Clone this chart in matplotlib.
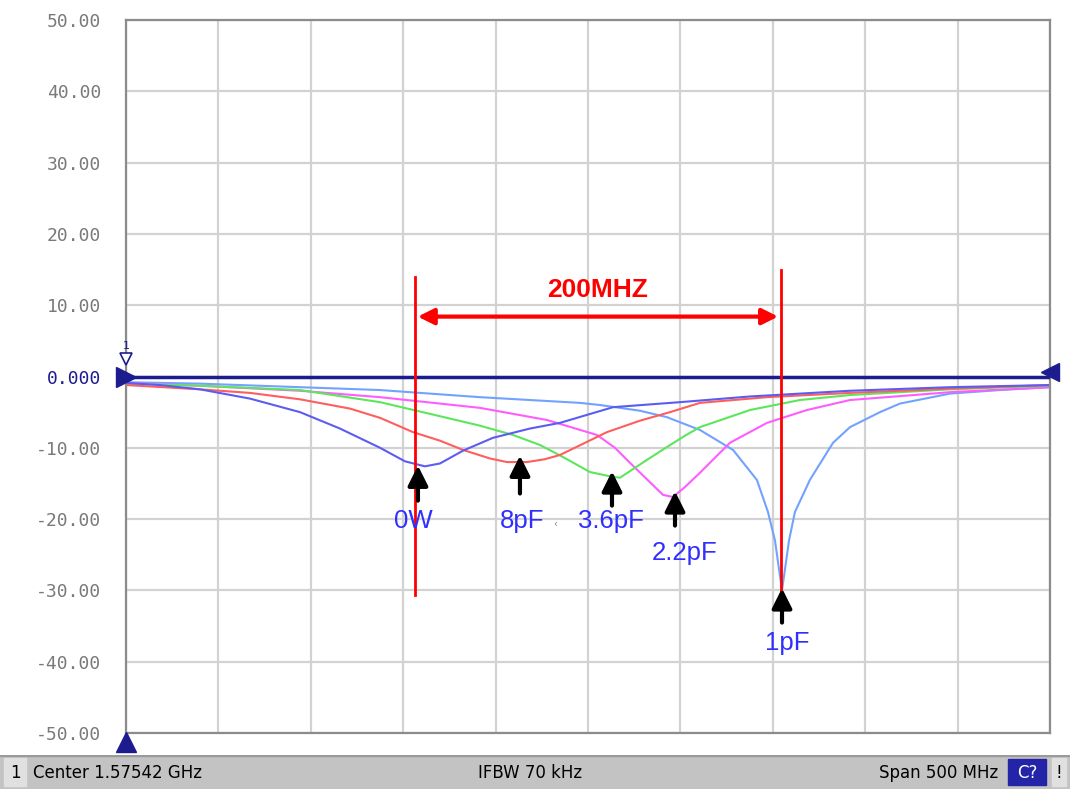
import matplotlib.pyplot as plt
from matplotlib.patches import Rectangle

# frequency axis (MHz)
CENTER_MHZ = 1575.42
SPAN_MHZ = 500.0

# traces (MHz, dB)
freq_0w = [1325.4, 1343.8, 1365.5, 1392.5, 1419.6, 1441.2, 1462.9, 1476.4, 1487.2,
           1495.3, 1507.8, 1524.0, 1544.0, 1560.3, 1589.0, 1625.2, 1663.1, 1717.2,
           1771.3, 1825.4]
s11_0w = [-0.9, -1.2, -1.8, -3.1, -5.0, -7.3, -10.0, -11.9, -12.6,
          -12.2, -10.4, -8.6, -7.3, -6.5, -4.3, -3.6, -2.8, -2.0, -1.5, -1.2]

freq_8pf = [1325.4, 1365.5, 1392.5, 1419.6, 1446.6, 1462.9, 1480.7, 1495.3, 1507.8,
            1522.4, 1531.6, 1542.4, 1552.1, 1560.3, 1573.8, 1585.7, 1603.5, 1619.8,
            1636.0, 1672.3, 1717.2, 1771.3, 1825.4]
s11_8pf = [-1.2, -1.8, -2.3, -3.2, -4.5, -5.8, -7.8, -9.0, -10.3,
           -11.5, -12.0, -12.0, -11.6, -11.0, -9.3, -7.8, -6.2, -5.0,
           -3.7, -2.9, -2.3, -1.7, -1.2]

freq_36pf = [1325.4, 1365.5, 1419.6, 1462.9, 1499.1, 1517.0, 1534.8, 1549.4, 1561.9,
             1576.5, 1587.3, 1592.7, 1607.3, 1618.1, 1627.9, 1636.0, 1663.1, 1690.1,
             1717.2, 1771.3, 1825.4]
s11_36pf = [-1.0, -1.3, -1.9, -3.6, -5.8, -6.9, -8.2, -9.6, -11.3,
            -13.4, -14.0, -14.2, -11.7, -9.9, -8.3, -7.1, -4.7, -3.3,
            -2.6, -1.8, -1.3]

freq_22pf = [1325.4, 1365.5, 1419.6, 1462.9, 1517.0, 1553.2, 1580.3, 1590.0, 1598.1,
             1616.0, 1621.4, 1627.9, 1636.0, 1652.2, 1672.3, 1693.9, 1717.2, 1771.3,
             1825.4]
s11_22pf = [-0.9, -1.3, -2.0, -2.9, -4.4, -6.1, -8.2, -10.0, -12.1,
            -16.6, -16.9, -15.5, -13.5, -9.3, -6.5, -4.7, -3.3, -2.2, -1.5]

freq_1pf = [1325.4, 1365.5, 1419.6, 1462.9, 1517.0, 1571.1, 1581.9, 1603.5, 1618.1,
            1636.0, 1653.9, 1666.8, 1672.8, 1676.6, 1680.4, 1684.2, 1687.4, 1695.5,
            1708.0, 1717.2, 1733.4, 1744.2, 1771.3, 1798.3, 1825.4]
s11_1pf = [-0.8, -1.0, -1.5, -1.9, -2.9, -3.7, -4.0, -4.8, -5.7,
           -7.5, -10.3, -14.5, -19.0, -23.0, -30.0, -23.0, -19.0, -14.5,
           -9.3, -7.1, -5.0, -3.8, -2.4, -1.9, -1.5]

# arrow annotations: label, x (MHz), tip, tail, label x, label y
labels = ["0W", "8pF", "3.6pF", "2.2pF", "1pF"]
arrow_x = [1483.4, 1538.6, 1588.4, 1622.5, 1680.4]
arrow_tip = [-12.1, -10.7, -12.9, -15.7, -29.3]
arrow_tail = [-17.8, -16.8, -18.5, -21.3, -34.9]
label_x = [1480.7, 1539.7, 1587.9, 1627.9, 1683.1]
label_y = [-20.3, -20.3, -20.3, -24.8, -37.4]

marker_left = 1481.8
marker_right = 1679.8

yticks = [50, 40, 30, 20, 10, 0, -10, -20, -30, -40, -50]
ytick_labels = ["50.00", "40.00", "30.00", "20.00", "10.00", "0.000",
                "-10.00", "-20.00", "-30.00", "-40.00", "-50.00"]

NAVY = "#1c1c8f"
LABEL_BLUE = "#2f2fff"

fig = plt.figure(figsize=(10.7, 7.89), dpi=100)
ax = fig.add_axes([126 / 1070, 1 - 733 / 789, 924 / 1070, 713 / 789])

fmin = CENTER_MHZ - SPAN_MHZ / 2
fmax = CENTER_MHZ + SPAN_MHZ / 2
ax.set_xlim(fmin, fmax)
ax.set_ylim(-50, 50)
ax.set_xticks([fmin + i * SPAN_MHZ / 10 for i in range(11)])
ax.set_xticklabels([])
ax.set_yticks(yticks)
ax.set_yticklabels(ytick_labels, family="DejaVu Sans Mono", fontsize=13, color="#7a7a7a")
ax.get_yticklabels()[5].set_color(NAVY)
ax.tick_params(length=0, pad=18)
ax.grid(True, color="#d2d2d2", lw=1.6)
ax.set_axisbelow(True)
for side in ax.spines:
    ax.spines[side].set_color("#8c8c8c")
    ax.spines[side].set_linewidth(1.6)

ax.plot(freq_1pf, s11_1pf, color="#72a2ff", lw=1.5)
ax.plot(freq_22pf, s11_22pf, color="#ff5cff", lw=1.5)
ax.plot(freq_36pf, s11_36pf, color="#5ce65c", lw=1.5)
ax.plot(freq_8pf, s11_8pf, color="#ff5e5e", lw=1.5)
ax.plot(freq_0w, s11_0w, color="#5c5cf2", lw=1.5)

# reference line + markers
ax.axhline(0, color=NAVY, lw=2.5, zorder=5)
ax.plot([fmin], [0], marker=">", ms=14, color=NAVY, clip_on=False, zorder=6)
ax.plot([fmax], [0.6], marker="<", ms=13, color=NAVY, clip_on=False, zorder=6)
ax.plot([fmin], [-51.2], marker="^", ms=14, color=NAVY, clip_on=False, zorder=6)
ax.plot([fmin], [2.4], marker="v", ms=8, mfc="white", mec=NAVY, mew=1.2,
        clip_on=False, zorder=6)
ax.text(fmin, 4.3, "1", color=NAVY, fontsize=8, ha="center", va="center")

# 200 MHz span annotation
ax.plot([marker_left, marker_left], [13.9, -30.7], color="red", lw=2, zorder=7)
ax.plot([marker_right, marker_right], [14.9, -31.5], color="red", lw=2, zorder=7)
ax.annotate("", xy=(marker_left, 8.4), xytext=(marker_right, 8.4),
            arrowprops=dict(arrowstyle="<|-|>", color="red", lw=3, mutation_scale=24),
            zorder=7)
ax.text((marker_left + marker_right) / 2, 12.1, "200MHZ", color="red", fontsize=19,
        weight="bold", family="Liberation Sans", ha="center", va="center")

for lab, x, tip, tail, lx, ly in zip(labels, arrow_x, arrow_tip, arrow_tail, label_x, label_y):
    ax.annotate("", xy=(x, tip), xytext=(x, tail),
                arrowprops=dict(arrowstyle="-|>", color="black", lw=3, mutation_scale=30),
                zorder=8)
    ax.text(lx, ly, lab, color=LABEL_BLUE, fontsize=18.5, family="Liberation Sans",
            ha="center", va="center", zorder=9)
ax.text(1557.5, -20.6, "‹", color="#888888", fontsize=7, ha="center", va="center")

# status bar
bar = fig.add_axes([0, 0, 1, 34 / 789])
bar.set_xlim(0, 1070)
bar.set_ylim(0, 34)
bar.set_xticks([])
bar.set_yticks([])
bar.set_facecolor("#c3c3c3")
for side in bar.spines:
    bar.spines[side].set_visible(False)
bar.add_patch(Rectangle((0, 33), 1070, 1.5, color="#9a9a9a"))
bar.add_patch(Rectangle((4, 3), 22, 28, color="#e0e0e0"))
bar.add_patch(Rectangle((1008, 4), 38, 26, color="#2424a8"))
bar.add_patch(Rectangle((1052, 3), 14, 28, color="#e0e0e0"))
bar_font = dict(fontsize=12, family=["Liberation Sans Narrow", "DejaVu Sans"],
                va="center", color="black")
bar.text(15, 16, "1", ha="center", **bar_font)
bar.text(33, 16, "Center 1.57542 GHz", ha="left", **bar_font)
bar.text(530, 16, "IFBW 70 kHz", ha="center", **bar_font)
bar.text(998, 16, "Span 500 MHz", ha="right", **bar_font)
bar.text(1027, 16, "C?", ha="center", fontsize=12,
         family=["Liberation Sans Narrow", "DejaVu Sans"], va="center", color="white")
bar.text(1059, 16, "!", ha="center", **bar_font)

fig.savefig("out.png", dpi=100)
